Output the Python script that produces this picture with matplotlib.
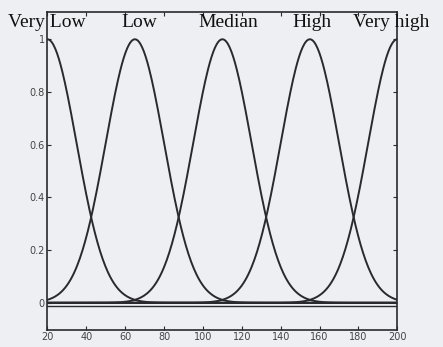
import numpy as np
import matplotlib.pyplot as plt

# gaussian membership functions
labels = ["Very Low", "Low", "Median", "High", "Very high"]
centers = [20, 65, 110, 155, 200]
sigma = 15
xticks = [20, 40, 60, 80, 100, 120, 140, 160, 180, 200]
yticks = [0, 0.2, 0.4, 0.6, 0.8, 1]
ytick_labels = ["0", "0.2", "0.4", "0.6", "0.8", "1"]

paper = '#eeeff3'
ink = '#2a2a2e'

fig = plt.figure(figsize=(4.43, 3.47), dpi=100, facecolor=paper)
ax = fig.add_axes([0.107, 0.05, 0.79, 0.915])
ax.set_facecolor(paper)

x = np.linspace(20, 200, 400)
for c in centers:
    ax.plot(x, np.exp(-(x - c) ** 2 / (2 * sigma ** 2)), color=ink, lw=1.4)

# baseline lines near zero
ax.plot([20, 200], [0, 0], color=ink, lw=1.3)
ax.plot([20, 200], [-0.013, -0.013], color=ink, lw=1.0)

ax.set_xlim(20, 200)
ax.set_ylim(-0.102, 1.103)
ax.set_xticks(xticks)
ax.set_yticks(yticks)
ax.set_yticklabels(ytick_labels)
ax.tick_params(direction='in', top=True, right=True, labelsize=7,
               colors=ink, labelcolor='#444444', length=3, pad=2)
for s in ax.spines.values():
    s.set_color(ink)
    s.set_linewidth(1.2)

# labels on top of each function
label_x = [19.5, 67.5, 113, 156, 197]
for lx, name in zip(label_x, labels):
    ax.text(lx, 1.065, name, ha='center', va='center', fontsize=14,
            family='Liberation Serif', color='#111111', clip_on=False)

fig.savefig('out.png', dpi=100, facecolor=paper)
